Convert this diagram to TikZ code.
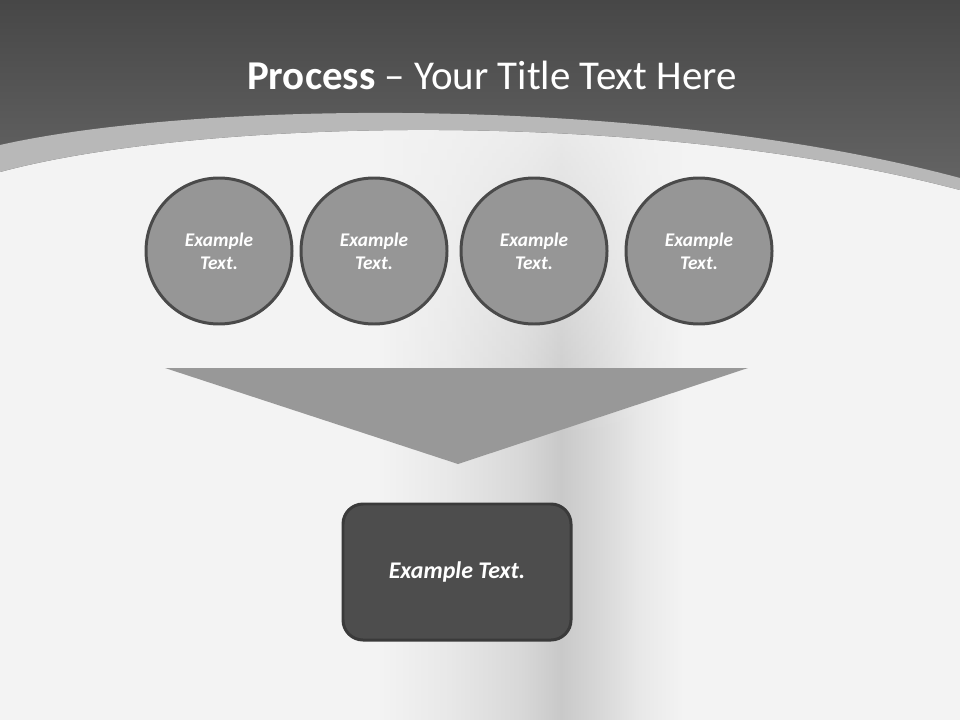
\documentclass[tikz,border=0pt]{standalone}
\usepackage{fontspec}
\usetikzlibrary{fadings}
\setmainfont{Carlito}
\definecolor{topdark}{HTML}{474747}
\definecolor{toplight}{HTML}{656565}
\definecolor{stripe}{HTML}{B8B8B8}
\definecolor{bgl}{HTML}{F3F3F3}
\definecolor{bga}{HTML}{E8E8E8}
\definecolor{bgm}{HTML}{D8D8D8}
\definecolor{bgd}{HTML}{C9C9C9}
\definecolor{circfill}{HTML}{969696}
\definecolor{circline}{HTML}{4A4A4A}
\definecolor{trifill}{HTML}{989898}
\definecolor{boxfill}{HTML}{4D4D4D}
\definecolor{boxline}{HTML}{3A3A3A}
\pgfdeclarehorizontalshading{bgband}{100bp}{color(0bp)=(bgl); color(25bp)=(bgl);
  color(44.8bp)=(bgl); color(48.4bp)=(bga); color(52.1bp)=(bgm); color(54.2bp)=(bgd);
  color(56.3bp)=(bgm); color(58.3bp)=(bga); color(60.6bp)=(bgl); color(75bp)=(bgl);
  color(100bp)=(bgl)}
\tikzset{
  stage/.style={circle, draw=circline, line width=1.7pt, fill=circfill,
    minimum size=29.2mm, align=center, text=white,
    font=\fontsize{11}{13}\selectfont\bfseries\itshape},
  outbox/.style={rectangle, rounded corners=4mm, draw=boxline, line width=1.7pt,
    fill=boxfill, minimum width=45.6mm, minimum height=27.2mm, text=white,
    font=\fontsize{13.6}{16}\selectfont\bfseries\itshape}
}
\begin{document}
\begin{tikzpicture}[x=0.2mm, y=-0.2mm]
    \useasboundingbox (0, 0) rectangle (960, 720);
    % background
    \shade[shading=bgband] (0, 0) rectangle (960, 720);
    \fill[bgl, path fading=south, opacity=0.8] (0, 120) rectangle (960, 440);
    \shade[top color=topdark, bottom color=toplight] (0, 0) -- (960, 0) -- (960, 190)
        .. controls (650, 108) and (200, 118) .. (0, 172) -- cycle;
    \fill[stripe] (0, 145) .. controls (200, 100) and (650, 95) .. (960, 178) -- (960, 190)
        .. controls (650, 108) and (200, 118) .. (0, 172) -- cycle;
    \node[text=white, font=\fontsize{23.3}{28}\selectfont] (title) at (492, 75)
        {\textbf{Process} -- Your Title Text Here};

    % stages
    \foreach \cx [count=\i] in {219, 374, 534, 699} {
        \node[stage] (c\i) at (\cx, 251) {Example\\Text.};
    }

    % funnel
    \coordinate (fl) at (165, 368);
    \coordinate (fr) at (748, 368);
    \coordinate (ft) at (458, 464);
    \fill[trifill] (fl) -- (fr) -- (ft) -- cycle;

    \node[outbox] (out) at (457, 572) {Example Text.};
\end{tikzpicture}
\end{document}
